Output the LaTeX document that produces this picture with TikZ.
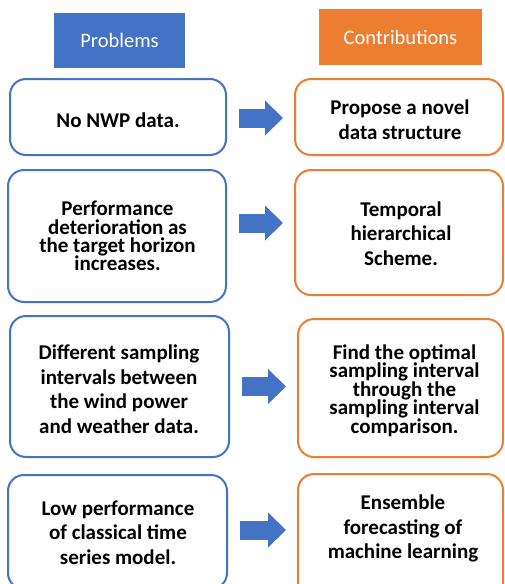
\documentclass[tikz,border=0pt]{standalone}
\usepackage{fontspec}
\setmainfont{Carlito}
\usetikzlibrary{arrows.meta}
\definecolor{probblue}{HTML}{4472C4}
\definecolor{contorange}{HTML}{ED7D31}
% let lines sit closer than their letters' natural height
\newcommand\nolineskip{\lineskiplimit-50pt\lineskip0pt\relax}
\tikzset{
  header/.style={inner sep=0pt, text=white, font=\fontsize{20.5}{24}\selectfont},
  probbox/.style={draw=probblue, line width=2pt, rounded corners=16pt, fill=white, inner sep=0pt},
  contbox/.style={draw=contorange, line width=2pt, rounded corners=16pt, fill=white, inner sep=0pt},
  loose/.style={align=center, inner sep=0pt,
    font=\bfseries\fontsize{21}{24.5}\selectfont\nolineskip},
  tight/.style={align=center, inner sep=0pt,
    font=\bfseries\fontsize{21}{18.4}\selectfont\nolineskip},
  fatarrow/.style={draw=probblue, line width=19pt,
    -{Triangle[length=18pt,width=34pt]}, shorten <=12pt, shorten >=11pt},
}
\begin{document}
\begin{tikzpicture}[x=1pt,y=-1pt]
\useasboundingbox (0,0) rectangle (505,584);
\fill[white] (0,0) rectangle (505,584);
\clip (0,0) rectangle (505,584);

% column headers
\node[header, fill=probblue, minimum width=131pt, minimum height=55pt] (hp) at (119.5,40.5) {Problems};
\node[header, fill=contorange, minimum width=163pt, minimum height=56pt] (hc) at (400.5,37) {Contributions};

% row 1
\node[probbox, minimum width=216pt, minimum height=76pt] (p1) at (118,117) {};
\node[contbox, minimum width=208pt, minimum height=76pt] (c1) at (399,117) {};
\node[loose] (p1t) at (118,120.5) {No NWP data.};
\node[loose] (c1t) at (400,119.5) {Propose a novel\\data structure};
\coordinate (a1) at (0,118);

% row 2
\node[probbox, minimum width=218pt, minimum height=132pt] (p2) at (117,236) {};
\node[contbox, minimum width=208pt, minimum height=125pt] (c2) at (399,232.5) {};
\node[tight] (p2t) at (117.5,236) {Performance\\deterioration as\\the target horizon\\increases.};
\node[loose] (c2t) at (401,233.5) {Temporal\\hierarchical\\Scheme.};
\coordinate (a2) at (0,223);

% row 3
\node[probbox, minimum width=219pt, minimum height=141pt] (p3) at (119.5,386.5) {};
\node[contbox, minimum width=205pt, minimum height=138pt] (c3) at (400.5,388) {};
\node[loose] (p3t) at (119,389) {Different sampling\\intervals between\\the wind power\\and weather data.};
\node[tight] (c3t) at (404.5,390.5) {Find the optimal\\sampling interval\\through the\\sampling interval\\comparison.};
\coordinate (a3) at (0,386.5);

% row 4 (runs past the lower edge)
\node[probbox, minimum width=219pt, minimum height=114pt] (p4) at (117.5,532) {};
\node[contbox, minimum width=205pt, minimum height=130pt] (c4) at (400.5,539) {};
\node[loose] (p4t) at (118,532.5) {Low performance\\of classical time\\series model.};
\node[loose] (c4t) at (403,528.5) {Ensemble\\forecasting of\\machine learning};
\coordinate (a4) at (0,530);

% block arrows from each problem to its contribution
\draw[fatarrow] (p1.east |- a1) -- (c1.west |- a1);
\draw[fatarrow] (p2.east |- a2) -- (c2.west |- a2);
\draw[fatarrow] (p3.east |- a3) -- (c3.west |- a3);
\draw[fatarrow] (p4.east |- a4) -- (c4.west |- a4);
\end{tikzpicture}
\end{document}
